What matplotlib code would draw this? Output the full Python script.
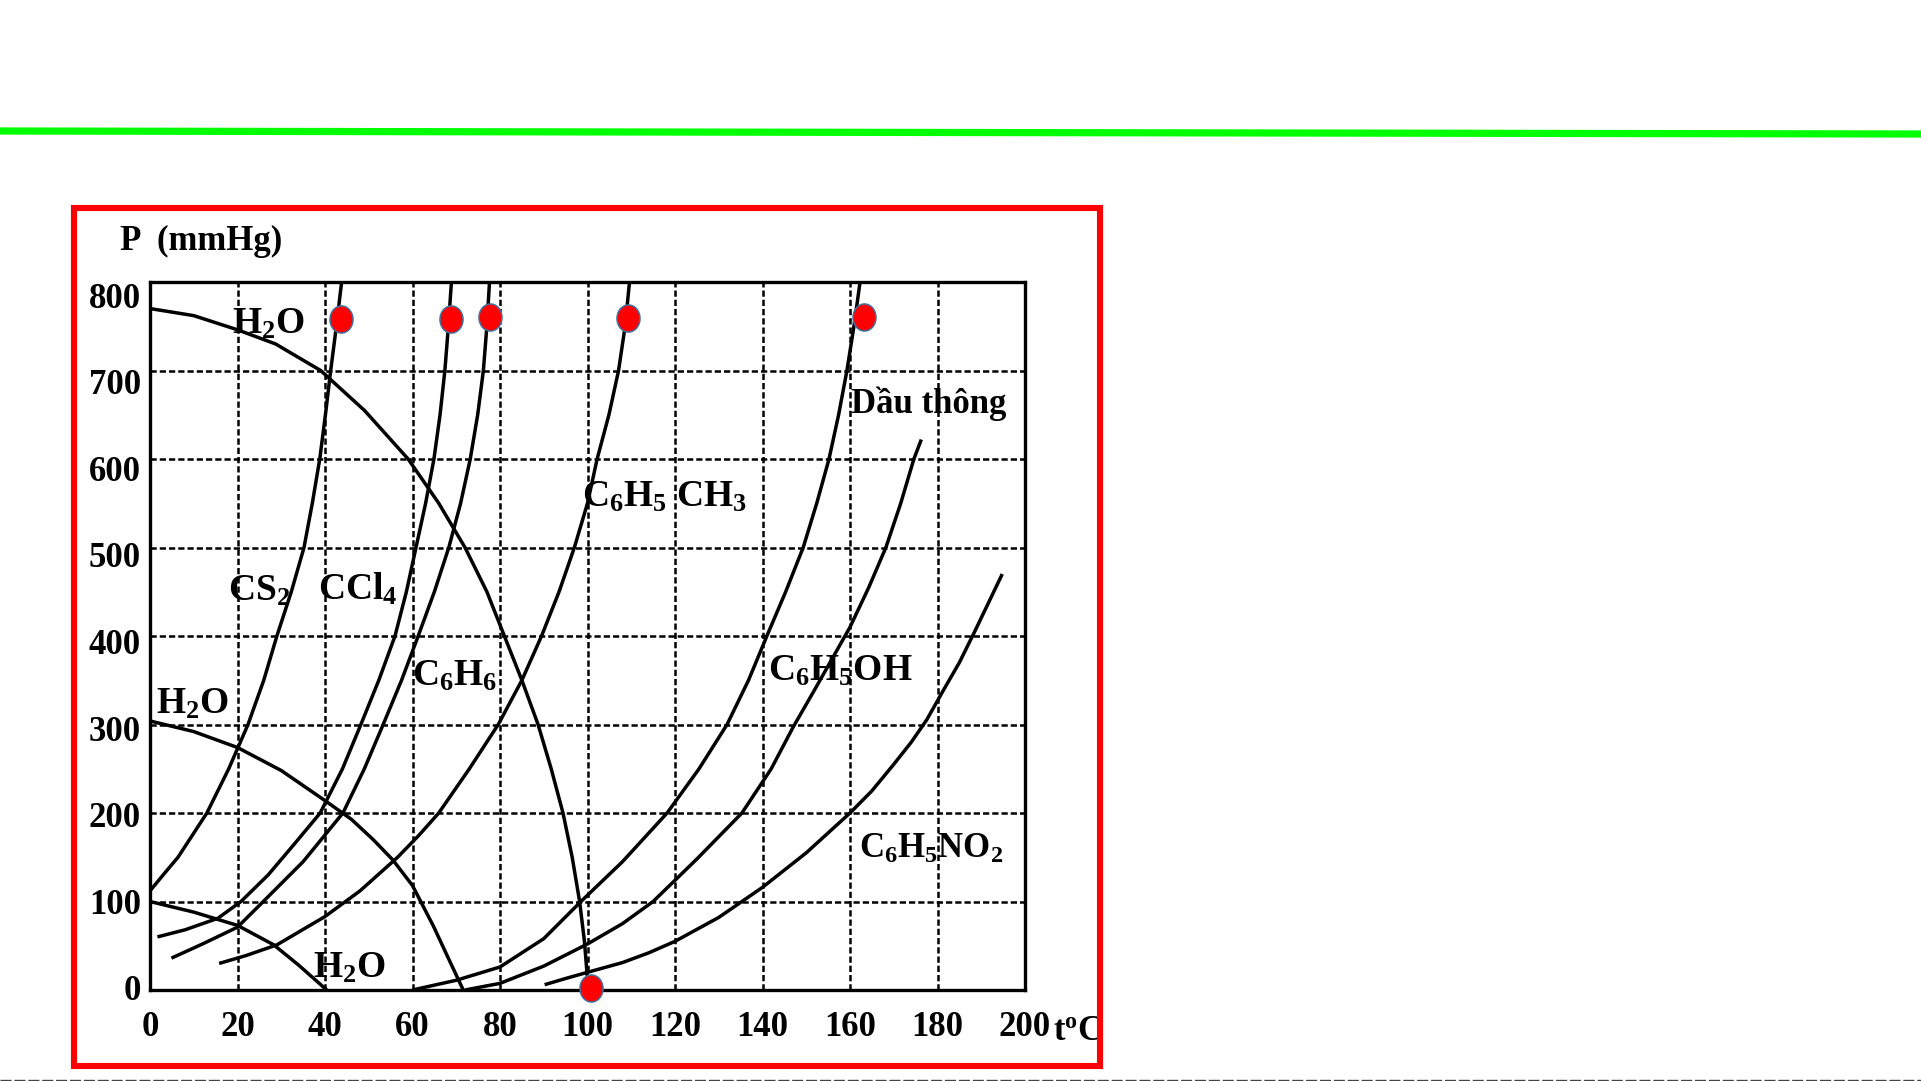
import numpy as np
import matplotlib
matplotlib.use("Agg")
import matplotlib.pyplot as plt
from matplotlib.path import Path
from matplotlib.transforms import Affine2D, ScaledTranslation
from matplotlib.lines import Line2D
from matplotlib.patches import Rectangle

plt.rcParams['font.family'] = ['Liberation Serif', 'DejaVu Serif']
plt.rcParams['font.weight'] = 'bold'
plt.rcParams['mathtext.fontset'] = 'custom'
plt.rcParams['mathtext.rm'] = 'Liberation Serif:bold'
plt.rcParams['mathtext.it'] = 'Liberation Serif:italic:bold'
plt.rcParams['mathtext.bf'] = 'Liberation Serif:bold'

# ap suat hoi (mmHg) theo nhiet do (oC), doc tu hinh
cs2_t = [0, 3, 6.4, 13, 18, 22.4, 26, 29, 32.3, 35.2, 37.1, 38.8, 40.1, 41.3, 42.6, 43.8]
cs2_p = [112, 130, 150, 200, 250, 300, 350, 400, 450, 500, 550, 600, 650, 700, 750, 800]

ccl4_t = [1.7, 8, 15.5, 20.8, 27, 33, 38.9, 44, 48.2, 52.3, 56, 58.6, 60.8, 63, 64.9, 66.3, 67.4, 68.2, 68.9]
ccl4_p = [60, 68, 81, 100, 130, 165, 200, 250, 300, 350, 400, 450, 500, 550, 600, 650, 700, 750, 800]

c6h6_t = [4.9, 12, 20, 25.9, 35, 44.1, 49, 53.3, 57.5, 61.3, 65, 68.3, 71, 73.2, 74.9, 76.2, 77, 77.6]
c6h6_p = [36, 52, 71, 100, 145, 200, 250, 300, 350, 400, 450, 500, 550, 600, 650, 700, 750, 800]

toluen_t = [15.8, 22, 29, 40, 48, 56.6, 61.5, 66, 73, 79.6, 85, 89.5, 93.5, 97, 100, 102.2, 104.9, 107.1, 108.6, 109.6]
toluen_p = [30, 39, 51, 83, 112, 150, 175, 200, 250, 300, 350, 400, 450, 500, 550, 600, 650, 700, 750, 800]

dauthong_t = [60, 70, 80, 90, 98.5, 108, 118.2, 125.5, 131.9, 136.8, 141, 145.3, 149.3, 152.4, 155.2, 157.4, 159.3, 160.9, 162.3]
dauthong_p = [0, 11, 26, 58, 100, 145, 200, 250, 300, 350, 400, 450, 500, 550, 600, 650, 700, 750, 800]

phenol_t = [72, 80, 90, 100, 108, 115, 125, 135.3, 142, 147, 152, 156, 160, 164.3, 168.2, 171.6, 174.6, 176.3]
phenol_p = [0, 7.5, 27, 52, 75, 100, 148, 200, 250, 297, 340, 375, 410, 455, 500, 550, 600, 622]

nitro_t = [90.2, 95, 100, 108, 114, 120, 130, 140, 150, 160, 165, 170, 174, 177.5, 181.5, 185, 188.5, 191.7, 194.8]
nitro_p = [6, 13, 20, 31, 42, 55, 82, 116, 155, 200, 225, 255, 280, 305, 340, 370, 405, 438, 470]

# cac duong H2O di xuong
h2o_760_t = [0, 10, 20, 28.7, 39, 49, 59, 66, 72, 77, 81, 85, 88.7, 91.7, 94.4, 96.5, 98.2, 99.3, 100]
h2o_760_p = [770, 762, 746, 730, 700, 655, 600, 550, 500, 450, 400, 350, 300, 250, 200, 150, 100, 55, 12]

h2o_300_t = [0, 10, 20, 30, 40, 46, 51, 55.5, 60, 64.8, 68, 71.6]
h2o_300_p = [304, 292, 274, 248, 214, 193, 170, 147, 118, 72, 38, 0]

h2o_100_t = [0, 10, 20, 28.3, 34, 40.4]
h2o_100_p = [100, 88, 73, 51, 28, 0]

# cham do (diem soi)
dot_t = [43.6, 68.8, 77.6, 109.3, 163.2, 100.7]
dot_p = [758, 758, 760, 759, 760, 2]

xticks = [0, 20, 40, 60, 80, 100, 120, 140, 160, 180, 200]
yticks = [0, 100, 200, 300, 400, 500, 600, 700, 800]

fig = plt.figure(figsize=(19.21, 10.81), dpi=100)
W, H = 1921.0, 1081.0

# duong xanh tren cung
fig.add_artist(Line2D([0, 1], [1 - 131 / H, 1 - 134 / H], color='#00FF00', lw=5.2,
                      transform=fig.transFigure))
# duong mo o day
fig.add_artist(Line2D([0, 1], [0.8 / H, 0.8 / H], color='#444444', lw=1.0,
                      linestyle=(0, (8, 2)), transform=fig.transFigure))

ax = fig.add_axes([150 / W, 1 - 990 / H, 875 / W, 708 / H])

curves = [(cs2_t, cs2_p), (ccl4_t, ccl4_p), (c6h6_t, c6h6_p), (toluen_t, toluen_p),
          (dauthong_t, dauthong_p), (phenol_t, phenol_p), (nitro_t, nitro_p),
          (h2o_760_t, h2o_760_p), (h2o_300_t, h2o_300_p), (h2o_100_t, h2o_100_p)]
for t, p in curves:
    ax.plot(t, p, color='black', lw=2.5, solid_capstyle='butt', solid_joinstyle='round')

ax.set_xlim(0, 200)
ax.set_ylim(0, 800)
ax.set_xticks(xticks)
ax.set_yticks(yticks)
ax.set_xticklabels([str(v) for v in xticks])
ax.set_yticklabels([])
ax.tick_params(axis='both', length=0, labelsize=25, colors='black')
ax.tick_params(axis='x', pad=15)
ax.grid(True, color='black', lw=1.8, linestyle=(0, (2.5, 1.2)))
ax.set_axisbelow(True)
for s in ax.spines.values():
    s.set_linewidth(2.4)
    s.set_color('black')

# nhan truc y: trong ban scan chu so hoi lech xuong so voi luoi
ytr = ax.get_yaxis_transform()
for v in yticks:
    dy = (2 + v / 800 * 15) / 100.0
    off = ScaledTranslation(-0.09, -dy, fig.dpi_scale_trans)
    ax.text(0, v, str(v), fontsize=25, ha='right', va='center', transform=ytr + off)

# nhan duong cong
lab = dict(fontsize=27, ha='center', va='center', color='black')
ax.text(27, 752, r'H$_2$O', **lab)
ax.text(25, 451, r'CS$_2$', **lab)
ax.text(47.5, 453, r'CCl$_4$', **lab)
ax.text(69.6, 355, r'C$_6$H$_6$', **lab)
ax.text(9.6, 323, r'H$_2$O', **lab)
ax.text(45.5, 25, r'H$_2$O', **lab)
ax.text(117.5, 557, r'C$_6$H$_5$ CH$_3$', **lab)
ax.text(178, 662, 'Dầu thông', fontsize=25, ha='center', va='center', color='black')
ax.text(157.8, 360, r'C$_6$H$_5$OH', **lab)
ax.text(178.5, 159, r'C$_6$H$_5$NO$_2$', fontsize=25, ha='center', va='center', color='black')

# cham do hinh elip
ell = Path.unit_circle().transformed(Affine2D().scale(0.85, 1.0))
ax.plot(dot_t, dot_p, linestyle='none', marker=ell, markersize=19.5,
        markerfacecolor='#FF0000', markeredgecolor='#41719C', markeredgewidth=1.1,
        clip_on=False, zorder=10)

fig.text(120 / W, 1 - 241 / H, 'P  (mmHg)', fontsize=25, ha='left', va='center')
fig.text(1053 / W, 1 - 1031 / H, r't$^{\mathrm{o}}$C', fontsize=25, ha='left', va='center')

# khung do
fig.add_artist(Rectangle((74 / W, 1 - 1066 / H), 1026 / W, 858 / H, fill=False,
                         edgecolor='#FF0000', lw=4.4, transform=fig.transFigure, zorder=20))

plt.savefig('out.png', dpi=100)
